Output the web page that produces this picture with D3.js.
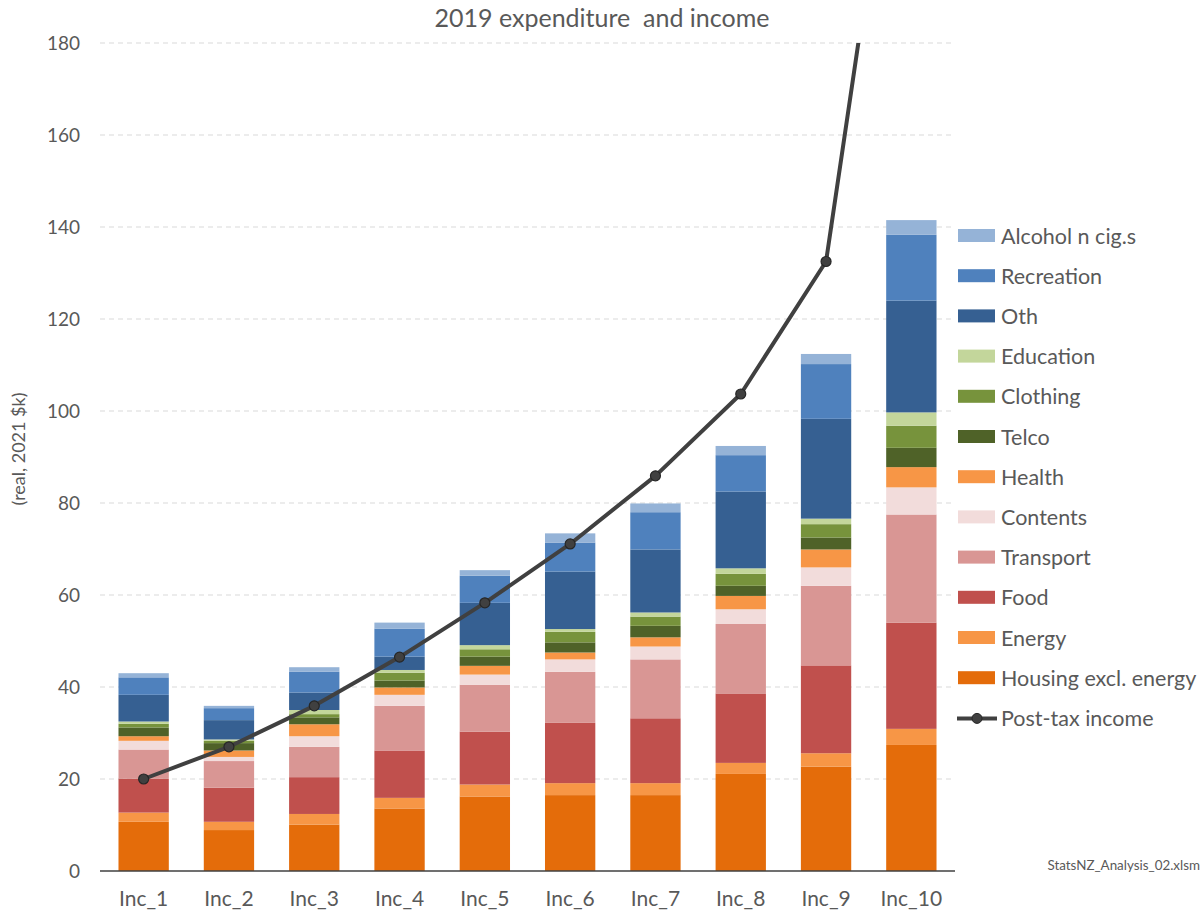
<!DOCTYPE html>
<html>
<head>
<meta charset="utf-8">
<script src="https://cdn.jsdelivr.net/npm/d3@7"></script>
<style>
  body { margin: 0; background: #fff; }
  text { font-family: Lato, "Open Sans", sans-serif; fill: #595959; }
</style>
</head>
<body>
<svg width="1203" height="913"></svg>
<script>
/*
Data
*/
var categories = ["Inc_1", "Inc_2", "Inc_3", "Inc_4", "Inc_5", "Inc_6", "Inc_7", "Inc_8", "Inc_9", "Inc_10"];

// expenditure per decile, stacked bottom to top
var housing    = [10.7, 8.9, 10.1, 13.6, 16.2, 16.5, 16.5, 21.1, 22.7, 27.4];
var energy     = [2.0, 1.8, 2.3, 2.3, 2.6, 2.6, 2.6, 2.4, 2.9, 3.5];
var food       = [7.4, 7.4, 8.0, 10.3, 11.5, 13.1, 14.1, 15.1, 19.1, 23.1];
var transport  = [6.3, 5.8, 6.6, 9.7, 10.2, 11.1, 12.8, 15.1, 17.3, 23.5];
var contents   = [1.9, 0.9, 2.3, 2.4, 2.2, 2.7, 2.8, 3.2, 4.0, 5.9];
var health     = [1.0, 1.4, 2.6, 1.6, 1.9, 1.5, 2.0, 2.9, 3.9, 4.4];
var telco      = [1.9, 1.6, 1.5, 1.5, 2.0, 2.2, 2.5, 2.2, 2.6, 4.2];
var clothing   = [0.8, 0.5, 0.7, 1.7, 1.6, 2.3, 2.0, 2.6, 2.9, 4.8];
var education  = [0.5, 0.3, 0.9, 0.6, 0.9, 0.6, 0.9, 1.2, 1.2, 2.9];
var oth        = [5.8, 4.2, 3.8, 2.9, 9.2, 12.5, 13.7, 16.7, 21.7, 24.3];
var recreation = [3.8, 2.6, 4.5, 6.1, 5.9, 6.3, 8.1, 7.9, 11.9, 14.3];
var alcohol    = [0.9, 0.5, 1.0, 1.3, 1.2, 2.0, 1.9, 2.0, 2.2, 3.2];

var income = [20.0, 27.0, 35.9, 46.5, 58.3, 71.1, 85.9, 103.7, 132.5, 258];

var yTicks = [0, 20, 40, 60, 80, 100, 120, 140, 160, 180];

var series = [
    { key: "Housing excl. energy", values: housing, color: "#e46c0a" },
    { key: "Energy", values: energy, color: "#f79646" },
    { key: "Food", values: food, color: "#c0504d" },
    { key: "Transport", values: transport, color: "#d99694" },
    { key: "Contents", values: contents, color: "#f2dcdb" },
    { key: "Health", values: health, color: "#f79646" },
    { key: "Telco", values: telco, color: "#4f6228" },
    { key: "Clothing", values: clothing, color: "#77933c" },
    { key: "Education", values: education, color: "#c3d69b" },
    { key: "Oth", values: oth, color: "#366092" },
    { key: "Recreation", values: recreation, color: "#4f81bd" },
    { key: "Alcohol n cig.s", values: alcohol, color: "#95b3d7" }
];

/*
Layout
*/
var svg = d3.select("svg");
var plot = { left: 101, right: 954, top: 43, bottom: 871 };

var x = d3.scaleBand()
    .domain(categories)
    .range([plot.left, plot.right])
    .paddingInner(0.41)
    .paddingOuter(0.205);

var y = d3.scaleLinear()
    .domain([0, 180])
    .range([plot.bottom, plot.top]);

// table for the stack
var rows = categories.map(function (c, i) {
    var r = { cat: c };
    series.forEach(function (s) { r[s.key] = s.values[i]; });
    return r;
});
var stacked = d3.stack().keys(series.map(function (s) { return s.key; }))(rows);

// gridlines
svg.append("g")
    .selectAll("line")
    .data(yTicks.filter(function (d) { return d > 0; }))
    .join("line")
    .attr("x1", plot.left - 1).attr("x2", plot.right + 1)
    .attr("y1", function (d) { return y(d); })
    .attr("y2", function (d) { return y(d); })
    .attr("stroke", "#d9d9d9")
    .attr("stroke-width", 1)
    .attr("stroke-dasharray", "5,4");

// y axis labels (no axis line in the original)
var yAxis = svg.append("g")
    .attr("transform", "translate(" + (plot.left - 21) + ",0)")
    .call(d3.axisLeft(y).tickValues(yTicks).tickSize(0).tickPadding(0));
yAxis.select(".domain").remove();
yAxis.selectAll("text")
    .style("font-size", "19px")
    .style("font-family", "Lato, sans-serif")
    .attr("fill", "#595959");

// bars
svg.append("g")
    .selectAll("g")
    .data(stacked)
    .join("g")
    .attr("fill", function (d, i) { return series[i].color; })
    .selectAll("rect")
    .data(function (d) { return d; })
    .join("rect")
    .attr("x", function (d) { return x(d.data.cat); })
    .attr("width", x.bandwidth())
    .attr("y", function (d) { return y(d[1]); })
    .attr("height", function (d) { return y(d[0]) - y(d[1]); });

// x axis
var xAxis = svg.append("g")
    .attr("transform", "translate(0," + plot.bottom + ")")
    .call(d3.axisBottom(x).tickSize(0).tickPadding(20));
xAxis.select(".domain")
    .attr("stroke", "#404040")
    .attr("stroke-width", 1.5)
    .attr("d", "M" + (plot.left - 1) + ",0H" + (plot.right + 1));
xAxis.selectAll("text")
    .style("font-size", "21px")
    .style("font-family", "Lato, sans-serif")
    .attr("fill", "#595959");

// income line, clipped at the top of the plot
svg.append("clipPath").attr("id", "clip")
    .append("rect")
    .attr("x", plot.left - 10).attr("y", plot.top)
    .attr("width", plot.right - plot.left + 20)
    .attr("height", plot.bottom - plot.top);

var lineG = svg.append("g").attr("clip-path", "url(#clip)");
var line = d3.line()
    .x(function (d, i) { return x(categories[i]) + x.bandwidth() / 2; })
    .y(function (d) { return y(d); });

lineG.append("path")
    .datum(income)
    .attr("d", line)
    .attr("fill", "none")
    .attr("stroke", "#404040")
    .attr("stroke-width", 4)
    .attr("stroke-linejoin", "round");

lineG.selectAll("circle")
    .data(income)
    .join("circle")
    .attr("cx", function (d, i) { return x(categories[i]) + x.bandwidth() / 2; })
    .attr("cy", function (d) { return y(d); })
    .attr("r", 5)
    .attr("fill", "#404040")
    .attr("stroke", "#262626")
    .attr("stroke-width", 1.2);

// title
svg.append("text")
    .attr("x", 602).attr("y", 27)
    .attr("text-anchor", "middle")
    .style("font-size", "25px")
    .style("white-space", "pre")
    .text("2019 expenditure  and income");

// y title
svg.append("text")
    .attr("transform", "translate(25,449) rotate(-90)")
    .attr("text-anchor", "middle")
    .style("font-size", "18px")
    .text("(real, 2021 $k)");

// legend, top item is the last series
var legendItems = series.slice().reverse();
var legend = svg.append("g").attr("transform", "translate(958,236)");
var item = legend.selectAll("g")
    .data(legendItems)
    .join("g")
    .attr("transform", function (d, i) { return "translate(0," + (i * 40.2) + ")"; });
item.append("rect")
    .attr("x", 0).attr("y", -7)
    .attr("width", 37).attr("height", 13)
    .attr("fill", function (d) { return d.color; });
item.append("text")
    .attr("x", 43).attr("y", 0)
    .attr("dy", "0.35em")
    .style("font-size", "21.5px")
    .text(function (d) { return d.key; });

var lineItem = legend.append("g")
    .attr("transform", "translate(0," + (legendItems.length * 40.2) + ")");
lineItem.append("line")
    .attr("x1", -1).attr("x2", 39)
    .attr("stroke", "#404040").attr("stroke-width", 4);
lineItem.append("circle")
    .attr("cx", 19).attr("r", 5)
    .attr("fill", "#404040").attr("stroke", "#262626");
lineItem.append("text")
    .attr("x", 43).attr("dy", "0.35em")
    .style("font-size", "21.5px")
    .text("Post-tax income");

// source note
svg.append("text")
    .attr("x", 1200).attr("y", 870)
    .attr("text-anchor", "end")
    .style("font-size", "13.4px")
    .attr("fill", "#7f7f7f")
    .text("StatsNZ_Analysis_02.xlsm");
</script>
</body>
</html>
